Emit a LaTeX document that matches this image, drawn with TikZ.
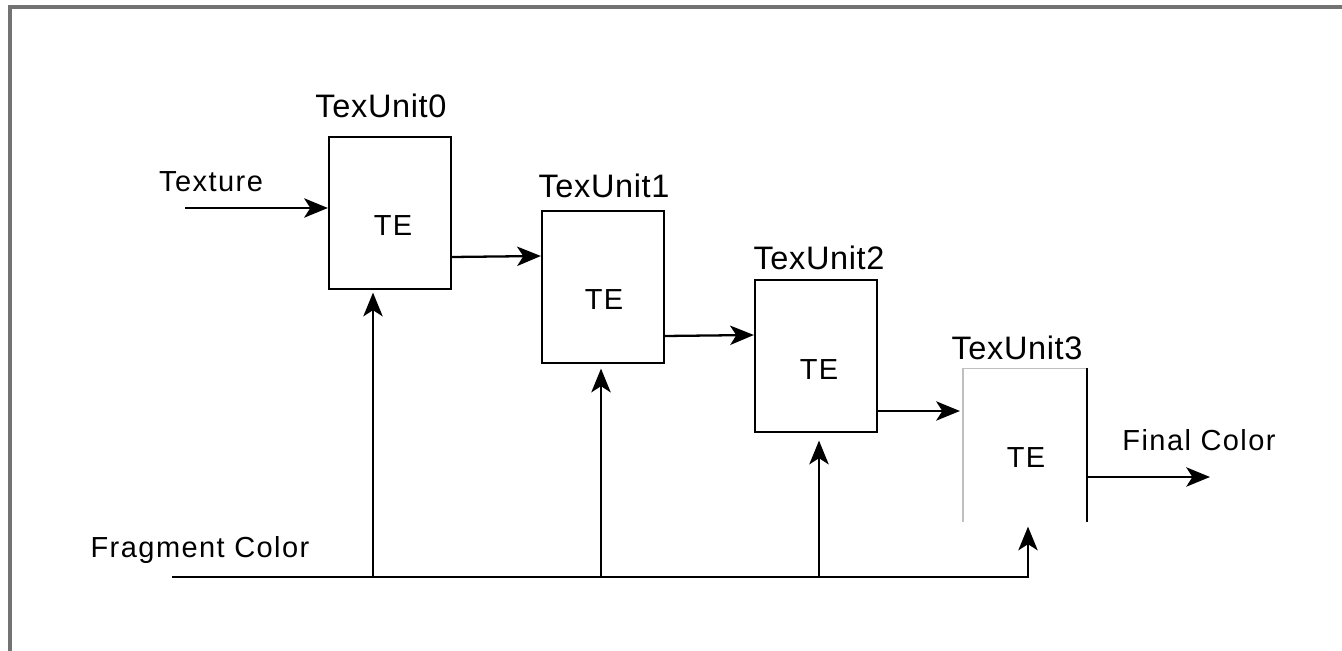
\documentclass[tikz,border=0pt]{standalone}
\usepackage{fontspec}
\setmainfont{Liberation Sans}
\newfontfamily\lblfont[LetterSpace=5]{Liberation Sans}
\newfontfamily\unitfont[LetterSpace=2]{Liberation Sans}
\usepackage{tikz}
\usetikzlibrary{arrows.meta, calc}

\tikzset{
  unitbox/.style={draw, line width=1pt, minimum width=2.45cm, minimum height=3.03cm, inner sep=0pt},
  arr/.style={line width=1.3pt, -{Stealth[length=13.5pt, width=11pt, inset=3.5pt]}},
  lbl/.style={font=\lblfont\fontsize{16.5}{18}\selectfont},
  unitlbl/.style={font=\unitfont\fontsize{18.5}{20}\selectfont},
}

\begin{document}
\begin{tikzpicture}[x=0.02cm, y=-0.02cm]
        \useasboundingbox (0,0) rectangle (1342,651);
        % Frame
        \draw[black!55, line width=1.8pt] (10,651) -- (10,7) -- (1342,7);
        % Units
        \node[unitbox] (u0) at (390,213) {};
        \node[unitbox] (u1) at (603,287) {};
        \node[unitbox] (u2) at (816,356) {};
        \node[unitbox, draw=none] (u3) at (1025,445) {};
        \draw[black!25, line width=1pt] (u3.south west) -- (u3.north west) -- (u3.north east);
        \draw[line width=1pt] (u3.north east) -- (u3.south east);
        % Titles
        \node[unitlbl] (t0) at (381,106) {TexUnit0};
        \node[unitlbl] (t1) at (604,186) {TexUnit1};
        \node[unitlbl] (t2) at (819,258) {TexUnit2};
        \node[unitlbl] (t3) at (1017,348) {TexUnit3};
        % TE
        \node[lbl] (e0) at (393,226) {TE};
        \node[lbl] (e1) at (604,300) {TE};
        \node[lbl] (e2) at (819,370) {TE};
        \node[lbl] (e3) at (1026,458) {TE};
        % Chain
        \coordinate (tex) at (185,208);
        \node[lbl] (texlbl) at (211,182) {Texture};
        \draw[arr] (tex) -- (tex -| u0.west);
        \draw[arr] ($(u0.east)+(0,44)$) -- ($(u1.west)+(0,-31)$);
        \draw[arr] ($(u1.east)+(0,49)$) -- ($(u2.west)+(0,-21)$);
        \draw[arr] ($(u2.east)+(0,55)$) -- ($(u3.west)+(-3,-34)$);
        \coordinate (out) at (1210,477);
        \node[lbl] (outlbl) at (1199,440) {Final Color};
        \draw[arr] (u3.east |- out) -- (out);
        % Fragment color
        \coordinate (frag) at (172,577);
        \node[lbl] (fraglbl) at (200,550) {Fragment Color};
        \coordinate (f0) at ($(u0.south)+(-17,3)$);
        \coordinate (f1) at ($(u1.south)+(-2,5)$);
        \coordinate (f2) at ($(u2.south)+(3,8)$);
        \coordinate (f3) at ($(u3.south)+(3,5)$);
        \draw[arr] (frag) -| (f3);
        \draw[arr] (f0 |- frag) -- (f0);
        \draw[arr] (f1 |- frag) -- (f1);
        \draw[arr] (f2 |- frag) -- (f2);
\end{tikzpicture}
\end{document}
